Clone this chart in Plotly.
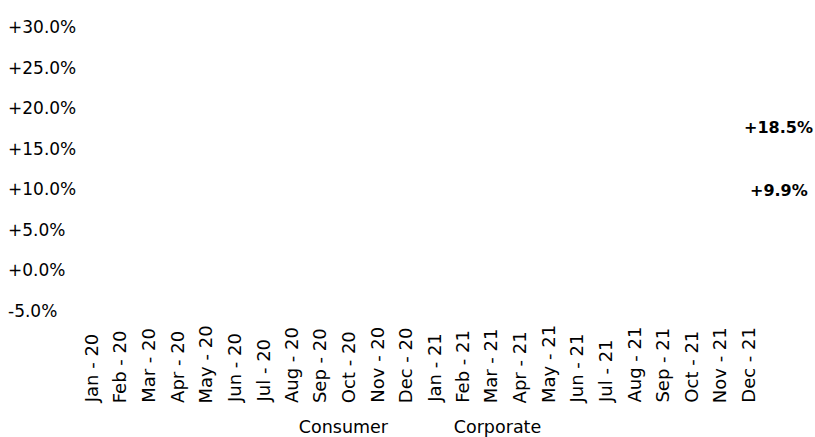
import plotly.graph_objects as go

months = ["Jan - 20", "Feb - 20", "Mar - 20", "Apr - 20", "May - 20", "Jun - 20",
          "Jul - 20", "Aug - 20", "Sep - 20", "Oct - 20", "Nov - 20", "Dec - 20",
          "Jan - 21", "Feb - 21", "Mar - 21", "Apr - 21", "May - 21", "Jun - 21",
          "Jul - 21", "Aug - 21", "Sep - 21", "Oct - 21", "Nov - 21", "Dec - 21"]

consumer = [4.2, 6.8, 7.5, 8.6, 6.1, 3.5, 4.8, 6.2, 7.0, 7.8, 8.3, 8.9,
            9.4, 9.1, 8.7, 9.6, 10.2, 9.8, 10.4, 10.1, 9.7, 10.3, 10.0, 9.9]
corporate = [20.1, 22.4, 24.8, 25.9, 26.3, 24.0, 21.5, 19.8, 18.2, 16.4, 17.1, 16.8,
             15.9, 16.5, 15.2, 14.8, 15.3, 15.0, 15.6, 16.2, 16.9, 17.4, 18.0, 18.5]

y_ticks = [-5, 0, 5, 10, 15, 20, 25, 30]

FONT = "DejaVu Sans"
LINE = "#ffffff"


def pct(v):
    return f"{v:+.1f}%"


fig = go.Figure()
for name, vals in [("Consumer", consumer), ("Corporate", corporate)]:
    fig.add_trace(go.Scatter(x=months, y=vals, mode="lines", name=name,
                             line=dict(color=LINE, width=2)))

# bold value labels beside the last point of each series
for vals, dy in ((corporate, -7), (consumer, 0)):
    fig.add_annotation(x=months[-1], y=vals[-1], text=f"<b>{pct(vals[-1])}</b>",
                       showarrow=False, xanchor="center", xshift=31, yshift=dy,
                       font=dict(family=FONT, size=16, color="#000000"))

# left-aligned y tick labels
for t in y_ticks:
    fig.add_annotation(x=-0.1035, xref="paper", y=t, yref="y", text=pct(t),
                       showarrow=False, xanchor="left", yanchor="middle",
                       font=dict(family=FONT, size=17, color="#000000"))

# vertical month labels, bottom-aligned
for m in months:
    fig.add_annotation(x=m, xref="x", y=-0.331, yref="paper", text=m,
                       textangle=-90, showarrow=False,
                       xanchor="center", yanchor="bottom",
                       font=dict(family=FONT, size=18, color="#000000"))

fig.update_layout(
    width=815, height=437,
    margin=dict(l=77, r=53, t=27, b=126, autoexpand=False),
    paper_bgcolor="white", plot_bgcolor="white",
    font=dict(family=FONT, size=18, color="#000000"),
    showlegend=True,
    legend=dict(orientation="h", x=0.4916, xanchor="center", y=-0.405, yanchor="middle",
                entrywidth=110, entrywidthmode="pixels",
                font=dict(family=FONT, size=17.5, color="#000000")),
    xaxis=dict(type="category", showgrid=False, zeroline=False, showline=False,
               showticklabels=False, range=[-0.5, 23.5]),
    yaxis=dict(range=[-5, 30], showgrid=False, zeroline=False, showline=False,
               tickvals=y_ticks, showticklabels=False),
)

fig.write_html("out.html")
